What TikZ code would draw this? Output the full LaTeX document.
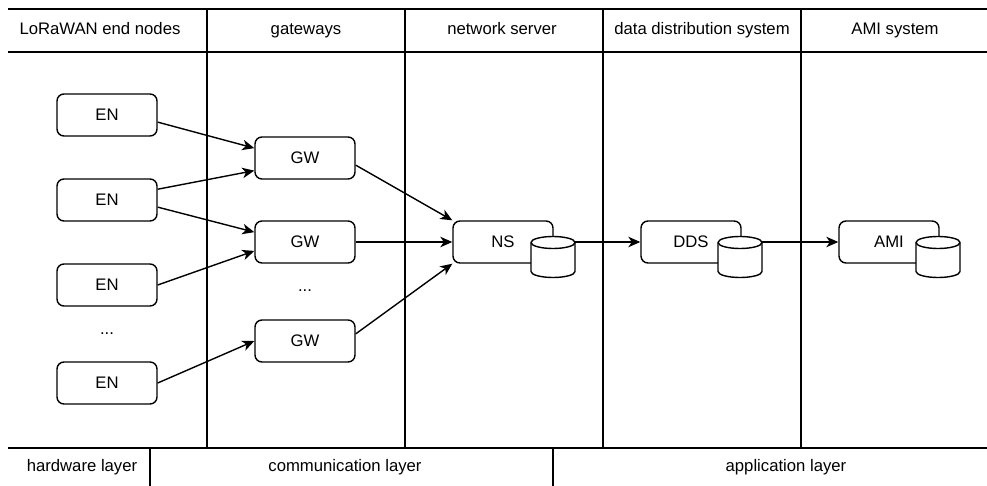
\documentclass[tikz,border=0pt]{standalone}
\usepackage{fontspec}
\setmainfont{Liberation Sans}
\usetikzlibrary{arrows.meta}

\tikzset{
  box/.style={draw, rounded corners=7pt, minimum width=100pt, minimum height=42pt, inner sep=0pt},
  lbl/.style={text height=12pt, text depth=3.5pt, inner sep=0pt},
  dbframe/.style={minimum width=44pt, minimum height=41pt, inner sep=0pt, outer sep=0pt},
  link/.style={-{Stealth[length=12pt, width=10.5pt, inset=3.5pt]}}
}

\begin{document}
\begin{tikzpicture}[x=1pt, y=-1pt, line width=1.4pt, font=\fontsize{16.7}{20}\selectfont]
    \useasboundingbox (0,0) rectangle (987,486);

    % Table lines
    \draw (8,9) -- (987,9);
    \draw (8,52) -- (987,52);
    \draw (8,448) -- (987,448);
    \foreach \x in {207,405,603,801}
        \draw (\x,9) -- (\x,448);
    \draw (150,448) -- (150,486);
    \draw (553,448) -- (553,486);

    % Column headers
    \node[lbl] (hEN) at (100,30) {LoRaWAN end nodes};
    \node[lbl] (hGW) at (306,30) {gateways};
    \node[lbl] (hNS) at (502,30) {network server};
    \node[lbl] (hDDS) at (702,30) {data distribution system};
    \node[lbl] (hAMI) at (895,30) {AMI system};

    % Layers
    \node[lbl] (hw) at (82,467) {hardware layer};
    \node[lbl] (comm) at (345,467) {communication layer};
    \node[lbl] (app) at (786,467) {application layer};

    % End nodes
    \node[box] (en1) at (107,115) {EN};
    \node[box] (en2) at (107,200) {EN};
    \node[box] (en3) at (107,285) {EN};
    \node[lbl] (endots) at (107,330) {...};
    \node[box] (en4) at (107,383) {EN};

    % Gateways
    \node[box] (gw1) at (305,158) {GW};
    \node[box] (gw2) at (305,242) {GW};
    \node[lbl] (gwdots) at (305,287) {...};
    \node[box] (gw3) at (305,341) {GW};

    % Servers, each with a database in front
    \node[box] (ns) at (503,242) {NS};
    \node[dbframe] (nsdb) at (553,257) {};
    \node[box] (dds) at (691,242) {DDS};
    \node[dbframe] (ddsdb) at (740,257) {};
    \node[box] (ami) at (889,242) {AMI};
    \node[dbframe] (amidb) at (938,257) {};

    \foreach \d in {nsdb,ddsdb,amidb} {
        \draw[fill=white] (\d.north west) ++(0,6) -- ++(0,29)
            arc[start angle=180, end angle=0, x radius=22, y radius=6] -- ++(0,-29)
            arc[start angle=0, end angle=-180, x radius=22, y radius=6] -- cycle;
        \draw (\d.north west) ++(0,6)
            arc[start angle=180, end angle=0, x radius=22, y radius=6];
    }

    % Uplinks
    \draw[link] (en1.-8) -- (gw1.169);
    \draw[link] (en2.12) -- (gw1.194);
    \draw[link] (en2.-8) -- (gw2.169);
    \draw[link] (en3.east) -- (gw2.190);
    \draw[link] (en4.east) -- (gw3.west);

    \draw[link] (gw1.-8) -- (ns.north west);
    \draw[link] (gw2) -- (ns);
    \draw[link] (gw3.8) -- (ns.south west);

    \draw[link] (nsdb.east |- dds.west) -- (dds.west);
    \draw[link] (ddsdb.east |- ami.west) -- (ami.west);
\end{tikzpicture}
\end{document}
